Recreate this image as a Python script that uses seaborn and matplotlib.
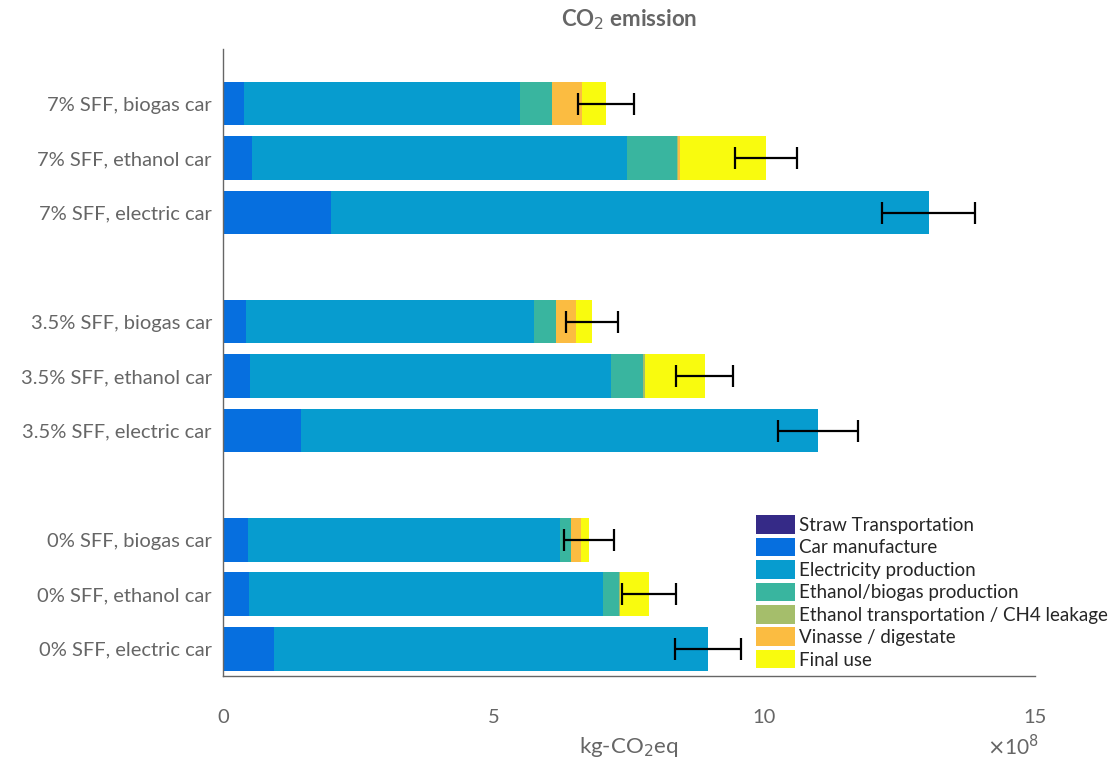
import matplotlib
matplotlib.use("Agg")
import matplotlib.pyplot as plt
from matplotlib.patches import Patch
import seaborn as sns
import pandas as pd
import numpy as np

# values in units of 1e8 kg-CO2eq, bottom row first
scenarios = ["0% SFF, electric car", "0% SFF, ethanol car", "0% SFF, biogas car",
             "3.5% SFF, electric car", "3.5% SFF, ethanol car", "3.5% SFF, biogas car",
             "7% SFF, electric car", "7% SFF, ethanol car", "7% SFF, biogas car"]
positions = [1, 2, 3, 5, 6, 7, 9, 10, 11]
components = ["Straw Transportation", "Car manufacture", "Electricity production",
              "Ethanol/biogas production", "Ethanol transportation / CH4 leakage",
              "Vinasse / digestate", "Final use"]
straw_transport = [0, 0, 0, 0, 0, 0, 0, 0, 0]
car_manufacture = [0.94, 0.48, 0.46, 1.44, 0.50, 0.43, 1.99, 0.54, 0.39]
electricity = [8.02, 6.54, 5.76, 9.55, 6.67, 5.31, 11.05, 6.93, 5.10]
fuel_production = [0, 0.30, 0.21, 0, 0.59, 0.41, 0, 0.91, 0.59]
fuel_transport = [0, 0.02, 0, 0, 0.03, 0, 0, 0.03, 0]
vinasse = [0, 0, 0.18, 0, 0, 0.37, 0, 0.03, 0.55]
final_use = [0, 0.53, 0.15, 0, 1.11, 0.30, 0, 1.59, 0.45]
error = [0.61, 0.50, 0.46, 0.74, 0.53, 0.48, 0.86, 0.58, 0.52]

colors = ["#352A87", "#066FDF", "#079CCF", "#39B59F", "#A5BE6B", "#FBBC41", "#F9FB0E"]
gray = "#666666"

sns.set_theme(style="white")
plt.rcParams["font.family"] = ["Lato", "DejaVu Sans"]

df = pd.DataFrame({"pos": positions, "scenario": scenarios})
layers = [straw_transport, car_manufacture, electricity, fuel_production,
          fuel_transport, vinasse, final_use]
cum = np.cumsum(np.array(layers), axis=0)
for name, c in zip(components, cum):
    df[name] = c

fig = plt.figure(figsize=(11.19, 7.74), dpi=100)
ax = fig.add_axes([223 / 1119, 98 / 774, 812 / 1119, 627 / 774])

# draw cumulative layers from the outermost inwards so each segment shows
for name, col in reversed(list(zip(components, colors))):
    sns.barplot(data=df, x=name, y="pos", orient="y", native_scale=True,
                color=col, saturation=1, width=0.8, linewidth=0, ax=ax)

totals = cum[-1]
ax.errorbar(totals, positions, xerr=error, fmt="none", ecolor="black",
            elinewidth=1.6, capsize=8, capthick=1.6, zorder=5)

ax.set_xlim(0, 15)
ax.set_ylim(0.5, 12)
ax.set_xticks([0, 5, 10, 15])
ax.set_xticklabels(["0", "5", "10", "15"])
yt = list(range(1, 12))
ax.set_yticks(yt)
lab = {p: s for p, s in zip(positions, scenarios)}
ax.set_yticklabels([lab.get(p, "") for p in yt])
ax.tick_params(axis="both", direction="in", length=6, width=1, color=gray,
               labelcolor=gray, labelsize=14.5)
ax.tick_params(axis="y", pad=8)
ax.tick_params(axis="x", pad=24)
for s in ["top", "right"]:
    ax.spines[s].set_visible(False)
for s in ["left", "bottom"]:
    ax.spines[s].set_color(gray)
    ax.spines[s].set_linewidth(1)

ax.set_xlabel("kg-CO$_2$eq", color=gray, fontsize=16, labelpad=6)
ax.set_ylabel("")
ax.set_title("CO$_2$ emission", color=gray, fontsize=16, fontweight="bold", pad=16)
ax.text(1.005, -0.092, r"$\times$10$^8$", transform=ax.transAxes, ha="right", va="top",
        color=gray, fontsize=15)

handles = [Patch(facecolor=c, edgecolor="none") for c in colors]
fig.legend(handles, components, loc="lower left", bbox_to_anchor=(748 / 1119, 98 / 774),
           frameon=False, fontsize=13.5, handlelength=2.1, handleheight=1.15,
           handletextpad=0.2, labelspacing=0.2, borderaxespad=0)

fig.savefig("out.png", dpi=100)
